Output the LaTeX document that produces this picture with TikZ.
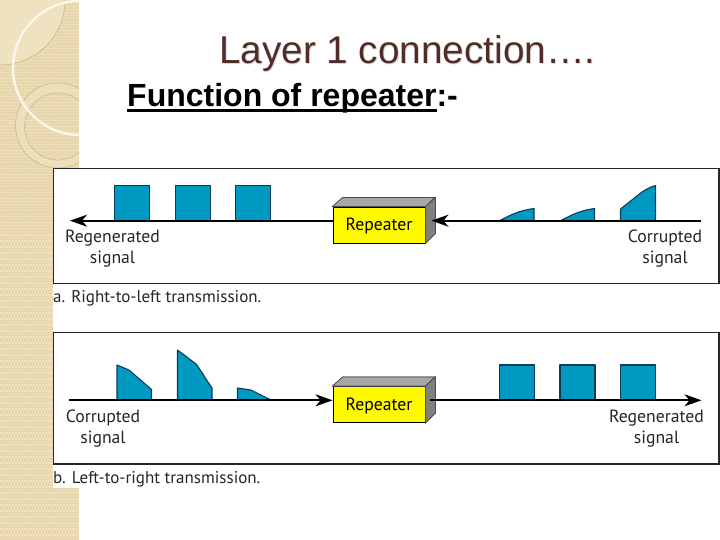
\documentclass[tikz,border=0pt]{standalone}
\usepackage{fontspec}
\setmainfont{Liberation Sans}
\newfontfamily\figfont{PT Sans}
\usetikzlibrary{arrows.meta}
\definecolor{tanbg}{RGB}{232,214,172}
\definecolor{tandot}{RGB}{245,234,205}
\definecolor{tanring}{RGB}{243,230,198}
\definecolor{tanline}{RGB}{205,188,145}
\definecolor{titlecol}{RGB}{80,45,38}
\definecolor{pulse}{RGB}{0,153,194}
\definecolor{pulseedge}{RGB}{10,60,85}
\definecolor{boxyellow}{RGB}{255,250,0}
\newcommand{\thickul}[1]{\setbox0=\hbox{#1}\rlap{\rule[-5pt]{\wd0}{3pt}}\box0}
\tikzset{
  panelbox/.style={draw=black!85,line width=1.4pt,fill=white},
  signalline/.style={draw=black,line width=1.7pt},
  arrowline/.style={signalline,-{Stealth[length=17pt,width=12pt,inset=5pt]}},
  pulseshape/.style={fill=pulse,draw=pulseedge,line width=1.1pt,line join=round},
  figtext/.style={font=\figfont\fontsize{17.7}{21}\selectfont,text=black!85,inner sep=0pt,align=center},
  captext/.style={font=\figfont\fontsize{17}{21}\selectfont,text=black!85,inner sep=0pt,anchor=base west},
  repeaterbox/.style={draw=black,line width=0.9pt,fill=boxyellow,minimum width=92pt,minimum height=36pt,inner sep=0pt,text height=11pt,text depth=0pt,font=\figfont\fontsize{17.7}{21}\selectfont},
  sidegrey/.style={draw=black!70,line width=0.7pt,fill=black!50},
  topgrey/.style={draw=black!70,line width=0.7pt,fill=black!35}
}
\begin{document}
\begin{tikzpicture}[x=1pt,y=-1pt]
\useasboundingbox (0,0) rectangle (720,540);
\fill[white] (0,0) rectangle (720,540);
% decorative strip
\begin{scope}
\clip (0,0) rectangle (79,540);
\fill[tanbg] (0,0) rectangle (79,540);
\fill[tandot!55!tanbg] (0,0) -- (65,0) arc[start angle=0,end angle=90,radius=65] -- cycle;
\foreach \i in {0,...,26}{\foreach \j in {0,...,180}{
  \pgfmathtruncatemacro{\k}{mod(\j,2)}
  \fill[tandot,opacity=.75] ({\i*3+\k*1.5},{\j*3}) rectangle +(1.5,1.5);
}}
\draw[tanline,line width=.7pt] (65,0) arc[start angle=0,end angle=90,radius=65];
\draw[tanline,line width=.7pt,fill=tanring,even odd rule,fill opacity=.5] (58,125.5) circle[radius=42.5] (58,126.5) circle[radius=33.5];
\draw[white!60!tandot,line width=2.4pt] (80,135) arc[start angle=90,end angle=270,radius=67];
\end{scope}
% title
\node[font=\fontsize{38.7}{42}\selectfont,text=black!15,inner sep=0pt,anchor=base west] (titleshadow) at (220,65) {Layer 1 connection….};
\node[font=\fontsize{38.7}{42}\selectfont,text=titlecol,inner sep=0pt,anchor=base west] (title) at (219,64) {Layer 1 connection….};
\node[font=\bfseries\fontsize{32}{36}\selectfont,text=black,inner sep=0pt,anchor=base west] (subtitle) at (127,107) {\thickul{Function of repeater}:-};
% figure background
\fill[white] (53,168) rectangle (720,488);
% panel a
\draw[panelbox] (53.5,168.5) rectangle (719,283.5);
\coordinate (aL) at (70,220.7);
\coordinate (aR) at (701,220.7);
\foreach \x in {114.5,175.5,235.5}{
  \draw[pulseshape] (\x,220.5) rectangle ++(35,-35);
}
\draw[pulseshape] (500,220.5) .. controls (512,214) and (520,210.5) .. (534,208.5) -- (534,220.5) -- cycle;
\draw[pulseshape] (561,220.5) .. controls (573,214) and (581,210.5) .. (594.5,208.5) -- (594.5,220.5) -- cycle;
\draw[pulseshape] (620.5,220.5) -- (620.5,209) -- (642,192) .. controls (646,189.5) and (650,187) .. (655.5,185.5) -- (655.5,220.5) -- cycle;
\node[repeaterbox] (r1) at (379,225) {Repeater};
\fill[topgrey] (r1.north west) -- ++(10,-9) -- ++(92,0) -- (r1.north east) -- cycle;
\fill[sidegrey] (r1.north east) -- ++(10,-9) -- ++(0,36) -- (r1.south east) -- cycle;
\draw[topgrey] (r1.north west) -- ++(10,-9) -- ++(92,0) -- (r1.north east) -- cycle;
\draw[sidegrey] (r1.north east) -- ++(10,-9) -- ++(0,36) -- (r1.south east) -- cycle;
\draw[arrowline] (r1.west |- aL) -- (aL);
\draw[arrowline,shorten >=6pt] (aR) -- (r1.east |- aR);
\node[figtext] (a1) at (112.5,249) {Regenerated\\signal};
\node[figtext] (a2) at (665,249) {Corrupted\\signal};
\node[captext] (a3) at (53,302) {a. Right-to-left transmission.};
% panel b
\draw[panelbox] (53.5,332.5) rectangle (719,464);
\coordinate (bL) at (69,400.3);
\coordinate (bR) at (701.5,400.3);
\draw[pulseshape] (117,400) -- (117,365) -- (129,370) -- (151.5,389.5) -- (151.5,400) -- cycle;
\draw[pulseshape] (177.5,400) -- (177.5,350) -- (196,364) .. controls (202,372) and (207,381) .. (212,388) -- (212,400) -- cycle;
\draw[pulseshape] (237.5,400) -- (237.5,388) -- (251,390) .. controls (257,393) and (263,396) .. (271,400) -- cycle;
\foreach \x in {499.5,560,620.5}{
  \draw[pulseshape] (\x,400) rectangle ++(35,-35);
}
\node[repeaterbox] (r2) at (379,404.5) {Repeater};
\fill[topgrey] (r2.north west) -- ++(10,-9) -- ++(92,0) -- (r2.north east) -- cycle;
\fill[sidegrey] (r2.north east) -- ++(10,-9) -- ++(0,36) -- (r2.south east) -- cycle;
\draw[topgrey] (r2.north west) -- ++(10,-9) -- ++(92,0) -- (r2.north east) -- cycle;
\draw[sidegrey] (r2.north east) -- ++(10,-9) -- ++(0,36) -- (r2.south east) -- cycle;
\draw[arrowline] (bL) -- (r2.west |- bL);
\draw[arrowline,shorten <=5pt] (r2.east |- bR) -- (bR);
\node[figtext] (b1) at (103,429) {Corrupted\\signal};
\node[figtext] (b2) at (656.5,429) {Regenerated\\signal};
\node[captext] (b3) at (53,483) {b. Left-to-right transmission.};
\end{tikzpicture}
\end{document}
